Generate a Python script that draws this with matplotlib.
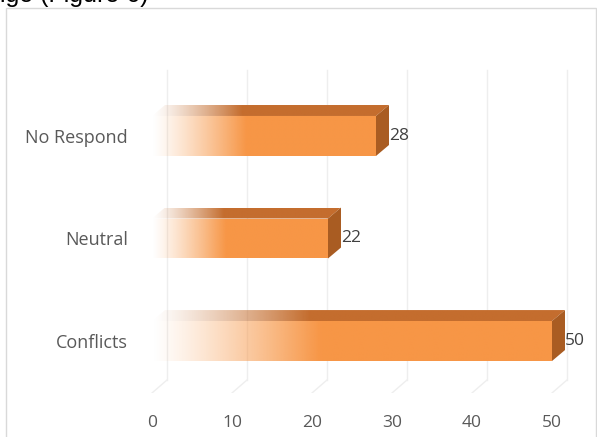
import numpy as np
import matplotlib.pyplot as plt
from matplotlib.patches import Polygon, Rectangle
from matplotlib.colors import to_rgb

# datos del grafico
categories = ["Conflicts", "Neutral", "No Respond"]
values = [50, 22, 28]
ticks = [0, 10, 20, 30, 40, 50]

plt.rcParams['font.family'] = ['Open Sans', 'DejaVu Sans']

W, H = 597, 437
fig = plt.figure(figsize=(W / 100, H / 100), dpi=100)
ax = fig.add_axes([140 / W, 1 - 393 / H, 450 / W, 333 / H])

# profundidad 3D (en unidades de datos)
dx, dy = 1.625, 0.107
gdx, gdy = 1.875, 0.127
bh = 0.39
orange = "#F79646"
top_col = "#C46D2E"
side_col = "#A95C22"


def grad_fill(verts, color, x0, x1, y0, y1, fade=0.42, z=3):
    poly = Polygon(verts, closed=True, facecolor="none", edgecolor="none")
    ax.add_patch(poly)
    t = np.linspace(0, 1, 256)
    img = np.zeros((1, 256, 4))
    img[..., :3] = to_rgb(color)
    img[..., 3] = np.clip(t / fade, 0, 1) ** 1.2
    im = ax.imshow(img, extent=(x0, x1, y0, y1), aspect="auto",
                   interpolation="bilinear", zorder=z)
    im.set_clip_path(poly)


# rejilla en la pared de fondo y el piso
y_floor_back = -0.38
y_floor_front = -0.507
y_top = 2.644
for t in ticks:
    ax.plot([t + gdx, t + gdx], [y_floor_back, y_top], color="#eeeeee", lw=1, zorder=1)
    ax.plot([t + gdx, t], [y_floor_back, y_floor_front], color="#eeeeee", lw=1, zorder=1)

for i, (cat, v) in enumerate(zip(categories, values)):
    yb, yt = i - bh / 2, i + bh / 2
    # cara frontal
    grad_fill([(0, yb), (v, yb), (v, yt), (0, yt)], orange, 0, v, yb, yt, z=4)
    # cara superior
    grad_fill([(0, yt), (v, yt), (v + dx, yt + dy), (dx, yt + dy)], top_col,
              0, v + dx, yt, yt + dy, fade=0.38, z=3)
    # cara lateral
    ax.add_patch(Polygon([(v, yb), (v, yt), (v + dx, yt + dy), (v + dx, yb + dy)],
                         closed=True, facecolor=side_col, edgecolor="none", zorder=5))
    ax.text(v + dx, i, str(v), ha="left", va="center", fontsize=12.5,
            color="#404040", zorder=6)

ax.set_xlim(-1.5, 54.75)
ax.set_ylim(-0.507, 2.741)
ax.set_xticks(ticks)
ax.set_yticks(range(len(categories)))
ax.set_yticklabels(categories)
ax.tick_params(axis="x", length=0, pad=16, labelsize=12.5, labelcolor="#595959")
ax.tick_params(axis="y", length=0, pad=8.6, labelsize=13, labelcolor="#595959")
for s in ax.spines.values():
    s.set_visible(False)

# marco del grafico y texto cortado de arriba
fig.add_artist(Rectangle((6 / W, -0.1), 590 / W, 1.1 - 8.5 / H, transform=fig.transFigure,
                         facecolor="none", edgecolor="#d9d9d9", lw=1))
fig.text(0 / W, 1 - 2 / H, "ige (Figure 6)", fontsize=18, family="Liberation Sans",
         color="black", ha="left", va="baseline")

fig.savefig("out.png", dpi=100)
